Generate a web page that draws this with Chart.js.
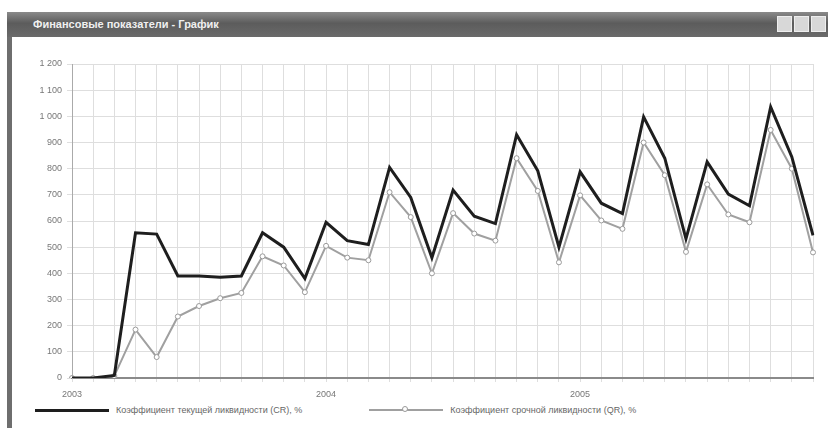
<!DOCTYPE html>
<html lang="ru">
<head>
<meta charset="utf-8">
<title>Финансовые показатели - График</title>
<script src="https://cdn.jsdelivr.net/npm/chart.js@4/dist/chart.umd.min.js"></script>
<style>
    html, body { margin: 0; padding: 0; background: #fff; }
    body { width: 828px; height: 428px; position: relative; overflow: hidden; font-family: 'Liberation Sans', sans-serif; }
    .frame { position: absolute; left: 7px; top: 12px; width: 830px; height: 420px; border-left: 5px solid #6e6e6e; background: #fff; }
    .titlebar {
        position: absolute; left: 7px; top: 12px; width: 821px; height: 25px;
        background: linear-gradient(#8a8a8a, #5c5c5c 45%, #6a6a6a);
        color: #f0f0f0; font-size: 11px; font-weight: bold; line-height: 25px; padding-left: 26px; box-sizing: border-box;
    }
    .btn { position: absolute; top: 16px; width: 15px; height: 16px; background: #d8d8d8; border: 1px solid #eee; box-sizing: border-box; }
    #wrap { position: absolute; left: 12px; top: 40px; width: 816px; height: 362px; }
    .legend { position: absolute; top: 405px; left: 35px; font-size: 9px; color: #666; display: flex; align-items: center; white-space: nowrap; }
    .legend .item { display: flex; align-items: center; }
    .legend .sample { position: relative; width: 74px; margin-right: 7px; }
</style>
</head>
<body>
<div class="frame"></div>
<div class="titlebar">Финансовые показатели - График</div>
<div class="btn" style="left:777px"></div>
<div class="btn" style="left:794px"></div>
<div class="btn" style="left:811px"></div>
<div id="wrap"><canvas id="chart" width="816" height="362"></canvas></div>
<div class="legend" id="legend"></div>

<script>
// Monthly values, Jan 2003 .. Dec 2005
const years = ['2003', '2004', '2005'];
const months = ['01', '02', '03', '04', '05', '06', '07', '08', '09', '10', '11', '12'];
const categories = years.flatMap(y => months.map(m => `${m}.${y}`));

const crValues = [
    0, 0, 10, 555, 550, 390, 390, 385, 390, 555, 500, 380,
    595, 525, 510, 805, 690, 460, 718, 618, 590, 930, 792, 500,
    788, 668, 628, 998, 840, 532, 826, 703, 658, 1036, 845, 545
];
const qrValues = [
    0, 0, 8, 185, 80, 235, 275, 305, 325, 465, 430, 328,
    505, 460, 450, 710, 615, 400, 630, 552, 525, 840, 715, 442,
    698, 602, 570, 900, 775, 482, 740, 625, 595, 948, 800, 480
];

const yTicks = [0, 100, 200, 300, 400, 500, 600, 700, 800, 900, 1000, 1100, 1200];

const seriesLabels = [
    'Коэффициент текущей ликвидности (CR), %',
    'Коэффициент срочной ликвидности (QR), %'
];

function fmt(v) {
    return v >= 1000 ? String(v).replace(/(\d)(\d{3})$/, '$1 $2') : String(v);
}

const ctx = document.getElementById('chart').getContext('2d');
new Chart(ctx, {
    type: 'line',
    data: {
        labels: categories,
        datasets: [
            {
                label: seriesLabels[0],
                data: crValues,
                borderColor: '#1e1e1e',
                borderWidth: 3,
                pointRadius: 0,
                tension: 0
            },
            {
                label: seriesLabels[1],
                data: qrValues,
                borderColor: '#a0a0a0',
                borderWidth: 2,
                pointRadius: 2.5,
                pointBackgroundColor: '#fff',
                pointBorderColor: '#9a9a9a',
                pointBorderWidth: 1,
                tension: 0
            }
        ]
    },
    options: {
        responsive: false,
        animation: false,
        maintainAspectRatio: false,
        layout: { padding: { top: 24, right: 15, left: 0, bottom: 0 } },
        plugins: {
            legend: { display: false },
            tooltip: { enabled: false }
        },
        scales: {
            x: {
                type: 'category',
                offset: false,
                grid: { color: '#dedede', tickLength: 4, drawTicks: true },
                border: { color: '#8a8a8a', width: 2 },
                ticks: {
                    autoSkip: false,
                    maxRotation: 0,
                    padding: 7,
                    color: '#777',
                    font: { size: 9, family: 'Liberation Sans' },
                    callback: (v, i) => (i % 12 === 0 ? categories[i].slice(3) : '')
                },
                afterFit: s => { s.height = 24; }
            },
            y: {
                min: 0,
                max: 1200,
                afterBuildTicks: s => { s.ticks = yTicks.map(v => ({ value: v })); },
                grid: { color: '#dedede', tickLength: 5 },
                border: { color: '#aaa' },
                ticks: {
                    padding: 5,
                    color: '#777',
                    font: { size: 9, family: 'Liberation Sans' },
                    callback: v => fmt(v)
                },
                afterFit: s => { s.width = 60; }
            }
        }
    }
});

// legend, drawn as html so the long line samples match
const legend = document.getElementById('legend');
legend.innerHTML = `
    <div class="item" style="margin-right:67px">
        <div class="sample" style="height:3px;background:#1e1e1e"></div>
        <span>${seriesLabels[0]}</span>
    </div>
    <div class="item">
        <div class="sample" style="height:2px;background:#a0a0a0">
            <div style="position:absolute;left:33px;top:-3px;width:6px;height:6px;border-radius:50%;border:1px solid #9a9a9a;background:#fff;box-sizing:border-box"></div>
        </div>
        <span>${seriesLabels[1]}</span>
    </div>`;
</script>
</body>
</html>
